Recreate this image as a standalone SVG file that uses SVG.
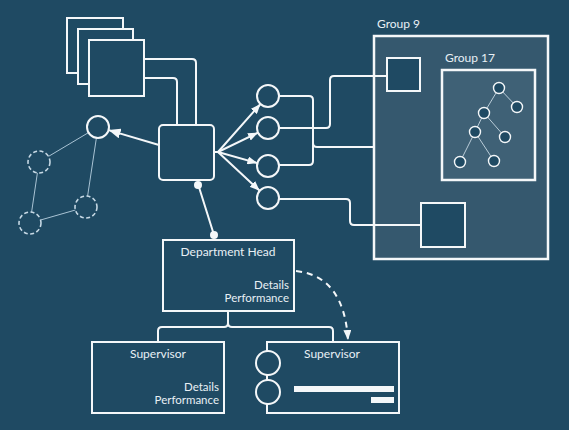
<svg xmlns="http://www.w3.org/2000/svg" width="569" height="430" viewBox="0 0 569 430">
<defs>
<style>
.ln{fill:none;stroke:#f4f7f9;stroke-width:2;stroke-linejoin:round;stroke-linecap:round}
.nd{fill:#1f4a63;stroke:#f4f7f9;stroke-width:2}
.thin{fill:none;stroke:#a9c3d4;stroke-width:1}
.dc{fill:none;stroke:#c6d8e4;stroke-width:1.6;stroke-dasharray:4 2.5}
.tn{fill:#1f4a63;stroke:#f4f7f9;stroke-width:1.4}
.tl{fill:none;stroke:#b9ccd8;stroke-width:1}
text{font-family:Lato,"Open Sans","Liberation Sans",sans-serif;font-size:12px;fill:#e8f0f5}
.r{text-anchor:end;font-size:11.5px}
.m{text-anchor:middle}
</style>
<marker id="ah" viewBox="0 0 10 8" markerWidth="10" markerHeight="8" refX="10" refY="4" orient="auto" markerUnits="userSpaceOnUse"><path d="M0,0 L10,4 L0,8 z" fill="#f4f7f9"/></marker>
<marker id="ah2" viewBox="0 0 12 10" markerWidth="12" markerHeight="10" refX="12" refY="5" orient="auto" markerUnits="userSpaceOnUse"><path d="M0,0 L12,5 L0,10 z" fill="#f4f7f9"/></marker>
</defs>
<rect width="569" height="430" fill="#1f4a63"/>

<g id="group9">
<rect x="374" y="36" width="174" height="223" fill="#35586e" stroke="#f4f7f9" stroke-width="2.5"/>
<text x="377" y="28">Group 9</text>
</g>
<g id="group17">
<rect x="442" y="70" width="93" height="110" fill="#3f6176" stroke="#f4f7f9" stroke-width="2.5"/>
<text x="445" y="62">Group 17</text>
<g id="tree">
<path class="tl" d="M499 88 L517 107 M499 88 L484 113 M484 113 L475 132 M484 113 L505 137 M475 132 L460 162 M475 132 L494 161"/>
<circle class="tn" cx="499" cy="88" r="5.5"/>
<circle class="tn" cx="517" cy="107" r="5.5"/>
<circle class="tn" cx="484" cy="113" r="5.5"/>
<circle class="tn" cx="475" cy="132" r="5.5"/>
<circle class="tn" cx="505" cy="137" r="5.5"/>
<circle class="tn" cx="460" cy="162" r="5.5"/>
<circle class="tn" cx="494" cy="161" r="5.5"/>
</g>
</g>

<g id="connectors">
<path class="ln" d="M144 59 H192 Q196 59 196 63 V125"/>
<path class="ln" d="M144 78 H173 Q177 78 177 82 V125"/>
<path class="ln" d="M159 145 L108.6 130.1" marker-end="url(#ah2)"/>
<path class="thin" d="M88.5 132.6 L48.5 156.4 M96.4 137.9 L87.6 196.1 M37.4 172.9 L31.6 212.1 M40.6 220 L75.4 210"/>
<path class="ln" d="M214 152 H218 L260.5 104" marker-end="url(#ah)"/>
<path class="ln" d="M218 152 L258 132.6" marker-end="url(#ah)"/>
<path class="ln" d="M218 152 L257.4 163.1" marker-end="url(#ah)"/>
<path class="ln" d="M218 152 L259.7 190.7" marker-end="url(#ah)"/>
<path class="ln" d="M279 96 H309 Q313 96 313 100 V161 Q313 165 309 165 H279"/>
<path class="ln" d="M313 143 Q313 147 317 147 H374"/>
<path class="ln" d="M279 128 H326 Q330 128 330 124 V80 Q330 76 334 76 H387"/>
<path class="ln" d="M279 199 H346 Q350 199 350 203 V221 Q350 225 354 225 H421"/>
<path class="ln" d="M198 184 L214 235"/>
<circle cx="198" cy="185" r="4" fill="#f4f7f9"/>
<circle cx="214" cy="235" r="4" fill="#f4f7f9"/>
<path class="ln" d="M228 311 V323 Q228 327 224 327 H162 Q158 327 158 331 V342"/>
<path class="ln" d="M228 323 Q228 327 232 327 H329 Q333 327 333 331 V342"/>
<path d="M296 271 Q344 276 348 340" fill="none" stroke="#f4f7f9" stroke-width="2" stroke-dasharray="6 5" marker-end="url(#ah)"/>
</g>

<g id="docs">
<rect class="nd" x="67" y="18" width="56" height="55"/>
<rect class="nd" x="78" y="29" width="55" height="55"/>
<rect class="nd" x="89" y="40" width="55" height="56"/>
</g>
<g id="central">
<rect class="nd" x="159" y="125" width="55" height="55" rx="4"/>
</g>
<g id="netnodes">
<circle class="nd" cx="98" cy="127" r="11" stroke-width="1.6" stroke="#c6d8e4"/>
<circle class="dc" cx="39" cy="162" r="11"/>
<circle class="dc" cx="86" cy="207" r="11"/>
<circle class="dc" cx="30" cy="223" r="11"/>
</g>
<g id="c1"><circle class="nd" cx="268" cy="96" r="11"/></g>
<g id="c2"><circle class="nd" cx="268" cy="128" r="11"/></g>
<g id="c3"><circle class="nd" cx="268" cy="166" r="11"/></g>
<g id="c4"><circle class="nd" cx="268" cy="198" r="11"/></g>
<g id="sq1"><rect class="nd" x="387" y="58" width="33" height="33"/></g>
<g id="sq2"><rect class="nd" x="421" y="203" width="44" height="44"/></g>

<g id="depthead">
<rect class="nd" x="163" y="240" width="131" height="71"/>
<text class="m" x="228" y="256">Department Head</text>
<text class="r" x="289" y="288.5">Details</text>
<text class="r" x="289" y="302">Performance</text>
</g>
<g id="sup1">
<rect class="nd" x="92" y="342" width="132" height="71"/>
<text class="m" x="158" y="358">Supervisor</text>
<text class="r" x="219" y="390.5">Details</text>
<text class="r" x="219" y="404">Performance</text>
</g>
<g id="sup2">
<rect class="nd" x="267" y="342" width="132" height="71"/>
<text class="m" x="332" y="358">Supervisor</text>
<circle class="nd" cx="268" cy="363" r="12"/>
<circle class="nd" cx="268" cy="392" r="12"/>
<rect x="294" y="386" width="100" height="6" fill="#f4f7f9"/>
<rect x="371" y="397" width="23" height="6" fill="#f4f7f9"/>
</g>
</svg>
